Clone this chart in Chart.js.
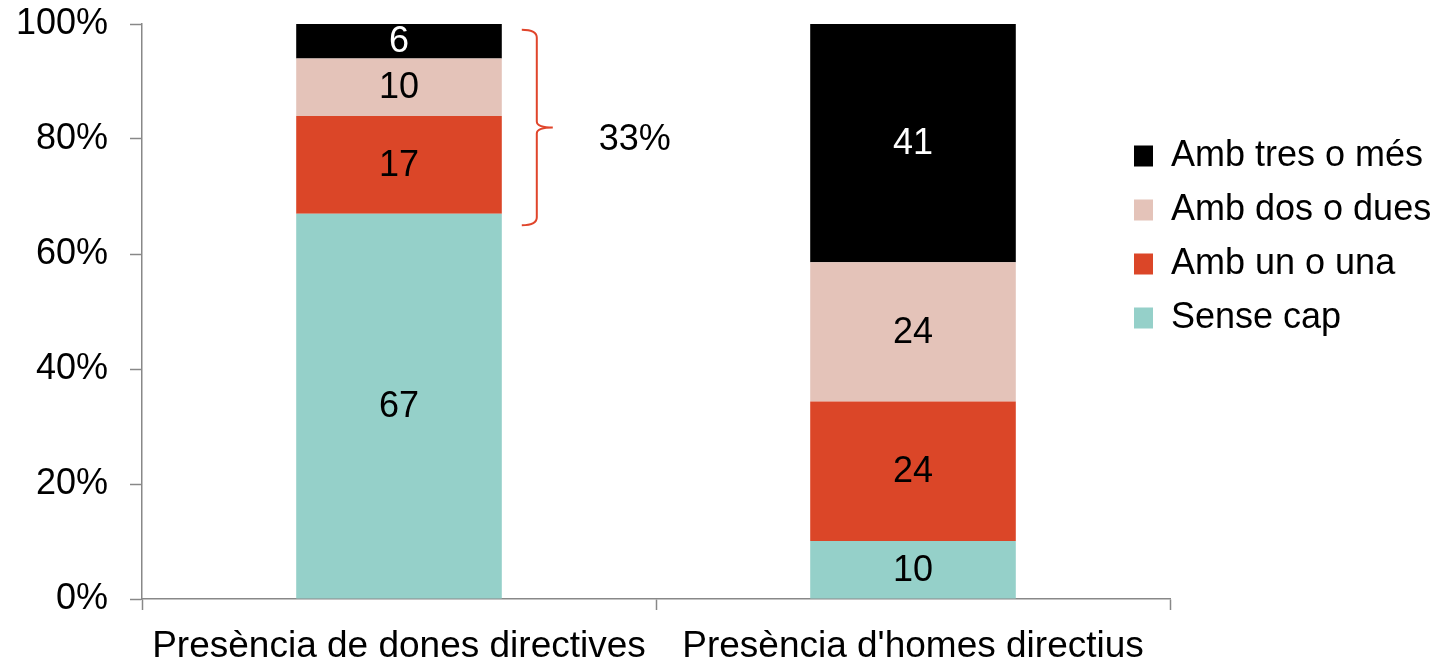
<!DOCTYPE html>
<html lang="ca">
<head>
  <meta charset="UTF-8" />
  <title>Presència de directives</title>
  <script src="https://cdn.jsdelivr.net/npm/chart.js"></script>
  <style>
    html,body{margin:0;padding:0;background:#fff}
    #wrap{width:1437px;height:661px}
  </style>
</head>
<body>
<div id="wrap"><canvas id="graf" width="1437" height="661"></canvas></div>
<script>
/* ---- dades ---- */
const categories = ["Presència de dones directives", "Presència d'homes directius"];
const senseCap   = [67, 10];
const ambUn      = [17, 24];
const ambDos     = [10, 24];
const ambTres    = [6, 41];
const yTicks     = [0, 20, 40, 60, 80, 100];
const bracketRange = [65, 99];   // on comença i acaba la clau sobre la 1a barra

const series = [
  {label: "Sense cap",       values: senseCap, color: "#95d0c9", text: "#000"},
  {label: "Amb un o una",    values: ambUn,    color: "#db4628", text: "#000"},
  {label: "Amb dos o dues",  values: ambDos,   color: "#e4c3b9", text: "#000"},
  {label: "Amb tres o més",  values: ambTres,  color: "#000000", text: "#fff"}
];

// 100% apilat: es normalitza cada categoria
const totals = categories.map((_, i) => series.reduce((s, d) => s + d.values[i], 0));
const FONT = "'Liberation Sans', Arial, sans-serif";

/* ---- etiquetes dins les barres ---- */
const etiquetes = {
  id: "etiquetes",
  afterDatasetsDraw(chart){
    const ctx = chart.ctx;
    ctx.save();
    ctx.font = "36px " + FONT;
    ctx.textAlign = "center";
    ctx.textBaseline = "middle";
    chart.data.datasets.forEach((ds, di) => {
      chart.getDatasetMeta(di).data.forEach((el, i) => {
        ctx.fillStyle = series[di].text;
        ctx.fillText(String(series[di].values[i]), el.x, (el.y + el.base) / 2 + 1);
      });
    });
    ctx.restore();
  }
};

/* ---- clau amb el 33% ---- */
const clau = {
  id: "clau",
  afterDatasetsDraw(chart){
    const ctx = chart.ctx, y = chart.scales.y;
    const el = chart.getDatasetMeta(0).data[0];
    const x0 = el.x + el.width / 2 + 20, x1 = x0 + 15, x2 = x1 + 16;
    const yTop = y.getPixelForValue(bracketRange[1]);
    const yBot = y.getPixelForValue(bracketRange[0]);
    const yMid = (yTop + yBot) / 2;
    ctx.save();
    ctx.strokeStyle = "#e0452b";
    ctx.lineWidth = 2;
    ctx.beginPath();
    ctx.moveTo(x0, yTop);
    ctx.quadraticCurveTo(x1, yTop, x1, yTop + 8);
    ctx.lineTo(x1, yMid - 6);
    ctx.quadraticCurveTo(x1, yMid, x2, yMid);
    ctx.moveTo(x2, yMid);
    ctx.quadraticCurveTo(x1, yMid, x1, yMid + 6);
    ctx.lineTo(x1, yBot - 8);
    ctx.quadraticCurveTo(x1, yBot, x0, yBot);
    ctx.stroke();
    const resta = ambUn[0] + ambDos[0] + ambTres[0];
    ctx.fillStyle = "#000";
    ctx.font = "36px " + FONT;
    ctx.textAlign = "center";
    ctx.textBaseline = "middle";
    ctx.fillText(resta + "%", x2 + 82, yMid + 13);
    ctx.restore();
  }
};

/* ---- llegenda dins l'àrea, a la dreta ---- */
const llegenda = {
  id: "llegenda",
  afterLayout(chart){
    const lg = chart.legend, a = chart.chartArea;
    if(!lg) return;
    lg.left = a.right - 54;
    lg.right = lg.left + lg.width;
    lg.top = a.top + 96;
    lg.bottom = lg.top + lg.height;
  }
};

new Chart(document.getElementById("graf"), {
  type: "bar",
  data: {
    labels: categories,
    datasets: series.map(s => ({
      label: s.label,
      data: s.values.map((v, i) => v / totals[i] * 100),
      backgroundColor: s.color,
      borderWidth: 0,
      categoryPercentage: 1,
      barPercentage: 0.4
    }))
  },
  options: {
    responsive: false,
    animation: false,
    events: [],
    layout: {padding: {top: 24, right: 267, left: 0, bottom: 0}},
    plugins: {
      tooltip: {enabled: false},
      legend: {
        position: "chartArea",
        align: "start",
        reverse: true,
        labels: {
          boxWidth: 19, boxHeight: 21, padding: 18,
          color: "#000", font: {family: FONT, size: 36}
        }
      }
    },
    scales: {
      x: {
        stacked: true,
        grid: {offset: true, drawOnChartArea: false, drawTicks: true, tickLength: 11, color: "#888", tickWidth: 1.5},
        border: {color: "#888", width: 1.5},
        ticks: {color: "#000", font: {family: FONT, size: 37}, maxRotation: 0, autoSkip: false, padding: 15},
        afterFit(s){ s.height = 62; s.paddingLeft = 0; s.paddingRight = 0; }
      },
      y: {
        stacked: true,
        min: 0, max: 100,
        afterBuildTicks(s){ s.ticks = yTicks.map(v => ({value: v})); },
        grid: {drawOnChartArea: false, drawTicks: true, tickLength: 12, color: "#888", tickWidth: 1.5},
        border: {color: "#888", width: 1.5},
        ticks: {color: "#000", font: {family: FONT, size: 36}, padding: 22, callback: v => v + "%"},
        afterFit(s){ s.width = 142; s.paddingTop = 0; s.paddingBottom = 0; }
      }
    }
  },
  plugins: [etiquetes, clau, llegenda]
});
</script>
</body>
</html>
